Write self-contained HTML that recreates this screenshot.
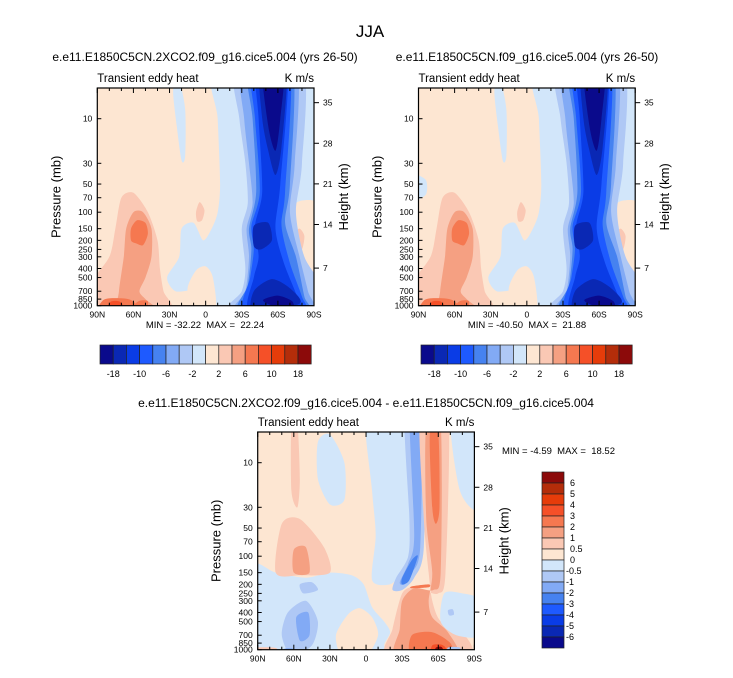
<!DOCTYPE html>
<html><head><meta charset="utf-8">
<style>
html,body{margin:0;padding:0;background:#fff;}
body{width:733px;height:673px;overflow:hidden;font-family:"Liberation Sans",Arial,sans-serif;}
svg text{font-family:"Liberation Sans",Arial,sans-serif;fill:#000;white-space:pre;}
</style></head>
<body>
<svg id="fig" width="733" height="673" viewBox="0 0 733 673" xmlns="http://www.w3.org/2000/svg">
<text x="370" y="37" font-size="17" text-anchor="middle">JJA</text>
</svg>
<script>
// ---- data ----
const topLevels = [-18,-14,-10,-8,-6,-4,-2,0,2,4,6,8,10,14,18];
const topLabels = ["-18","-10","-6","-2","2","6","10","18"];
const diffLevels = [-6,-5,-4,-3,-2,-1,-0.5,0,0.5,1,2,3,4,5,6];
const colors = ["#0a0a8c","#0a28b4","#0a3ce6","#1e5aff","#4682f0","#82aaf5","#afc8f5","#d2e6fa","#fde6d2","#fac8b4","#f5a082","#f57850","#f55028","#e63c0a","#b42d0a","#8c0a0a"];
const latTicks = [90,60,30,0,-30,-60,-90];
const latLabels = ["90N","60N","30N","0","30S","60S","90S"];
const presTicks = [1000,850,700,500,400,300,250,200,150,100,70,50,30,10];
const heightTicks = [7,14,21,28,35];
const panelTitles = ["e.e11.E1850C5CN.2XCO2.f09_g16.cice5.004 (yrs 26-50)","e.e11.E1850C5CN.f09_g16.cice5.004 (yrs 26-50)","e.e11.E1850C5CN.2XCO2.f09_g16.cice5.004 - e.e11.E1850C5CN.f09_g16.cice5.004"];
const minVals = [-32.22,-40.50,-4.59];
const maxVals = [22.24,21.88,18.52];
// contour regions: [colorIndex, [[lat,p],...]]
const climShapes = [
 [7,[[-8,3],[-90,3],[-90,1000],[5,1000],[8,700],[25,700],[32,500],[22,300],[20,150],[10,130],[2,200],[-5,150],[-10,100],[-12,50],[-10,10]]],
 [7,[[27,5],[22,4],[17,8],[17,25],[20,28],[24,12]]],
 [8,[[12,1000],[15,650],[8,420],[0,380],[-6,500],[-8,1000]]],
 [8,[[-70,100],[-80,75],[-90,90],[-90,480],[-80,430],[-70,300]]],
 [9,[[-74,170],[-78,150],[-82,180],[-80,250],[-75,240]]],
 [9,[[90,1000],[90,600],[80,300],[75,150],[70,70],[60,62],[48,100],[40,200],[38,400],[35,700],[30,1000]]],
 [10,[[72,1000],[72,700],[68,300],[66,150],[60,100],[52,100],[45,150],[45,300],[50,500],[55,700],[50,850],[40,1000]]],
 [11,[[62,200],[62,150],[57,122],[50,130],[48,170],[52,225],[58,215]]],
 [11,[[88,1000],[85,870],[75,830],[62,870],[55,1000]]],
 [12,[[82,1000],[79,910],[71,910],[67,1000]]],
 [11,[[58,950],[54,880],[48,900],[50,1000],[57,1000]]],
 [9,[[8,100],[5,78],[1,95],[3,122],[7,125]]],
 [6,[[-25,3],[-80,3],[-80,30],[-75,100],[-82,300],[-90,600],[-90,1000],[-20,1000],[-30,700],[-33,400],[-30,150],[-35,80],[-33,30],[-28,10]]],
 [5,[[-30,3],[-75,3],[-74,30],[-70,100],[-78,300],[-85,700],[-88,1000],[-25,1000],[-33,700],[-36,300],[-34,150],[-39,80],[-36,30],[-32,10]]],
 [4,[[-35,3],[-72,3],[-70,50],[-66,130],[-75,300],[-82,800],[-85,1000],[-28,1000],[-35,600],[-38,250],[-36,150],[-42,60],[-39,10]]],
 [3,[[-38,3],[-70,3],[-66,60],[-63,140],[-70,350],[-80,800],[-82,1000],[-32,1000],[-37,500],[-40,250],[-38,140],[-45,60],[-41,10]]],
 [2,[[-42,3],[-68,3],[-62,50],[-58,150],[-65,350],[-76,800],[-78,1000],[-36,1000],[-40,500],[-44,300],[-41,140],[-47,60],[-44,10]]],
 [1,[[-45,3],[-67,3],[-63,20],[-58,40],[-52,22],[-47,10]]],
 [1,[[-40,140],[-52,130],[-55,200],[-46,250],[-40,230]]],
 [1,[[-40,700],[-55,520],[-70,650],[-78,950],[-40,1000]]],
 [0,[[-47,3],[-65,3],[-62,10],[-58,22],[-52,12]]],
 [0,[[-48,860],[-60,780],[-72,900],[-72,1000],[-52,960]]],
 [12,[[-84,1000],[-90,900],[-90,1000]]]
];
const extraShapes2 = [
 [7,[[90,40],[84,45],[84,65],[90,75]]]
];
const diffShapes = [
 [7,[[90,130],[75,150],[50,170],[30,150],[12,160],[2,200],[-5,350],[-15,500],[-20,650],[-15,900],[-20,1000],[90,1000]]],
 [8,[[25,700],[15,420],[5,360],[-5,450],[-10,700],[0,1000],[20,1000]]],
 [7,[[0,3],[-32,3],[-38,50],[-38,100],[-30,150],[-20,200],[-5,180],[-8,60],[-5,20]]],
 [7,[[40,6],[30,5],[18,10],[18,25],[30,28],[40,15]]],
 [7,[[-70,3],[-90,3],[-90,30],[-78,20]]],
 [6,[[-32,3],[-48,3],[-48,80],[-40,170],[-30,230],[-22,230],[-25,170],[-35,100],[-36,40]]],
 [5,[[-36,3],[-46,3],[-45,80],[-38,150],[-32,200],[-28,190],[-35,120],[-40,60]]],
 [4,[[-38,110],[-43,100],[-36,180],[-30,200],[-30,170]]],
 [9,[[-45,3],[-68,3],[-66,150],[-60,250],[-48,230],[-40,210],[-30,250],[-22,600],[-18,1000],[-85,1000],[-82,700],[-62,500],[-55,300],[-52,150],[-48,40]]],
 [10,[[-50,4],[-62,4],[-62,150],[-56,230],[-40,220],[-30,300],[-28,600],[-25,1000],[-75,1000],[-68,650],[-55,450],[-52,300],[-55,150],[-50,40]]],
 [11,[[-53,5],[-60,5],[-61,30],[-58,45],[-55,30]]],
 [11,[[-38,700],[-55,650],[-70,850],[-70,1000],[-38,1000]]],
 [12,[[-55,900],[-62,880],[-66,950],[-66,1000],[-54,1000]]],
 [15,[[-58,950],[-63,940],[-65,1000],[-57,1000]]],
 [11,[[-38,210],[-52,200],[-52,215],[-38,220]]],
 [7,[[-65,250],[-80,250],[-90,300],[-90,700],[-75,700],[-62,500]]],
 [6,[[-68,380],[-72,370],[-73,420],[-69,430]]],
 [9,[[62,4],[57,4],[55,15],[57,30],[62,20]]],
 [9,[[70,45],[55,40],[35,80],[30,150],[55,160],[75,150]]],
 [10,[[60,85],[50,80],[47,150],[60,150]]],
 [6,[[55,200],[45,190],[40,230],[52,250]]],
 [6,[[65,400],[50,300],[40,500],[45,900],[62,1000],[70,700]]],
 [5,[[58,450],[48,400],[47,700],[55,800]]],
 [9,[[90,960],[75,960],[75,1000],[90,1000]]],
 [5,[[68,980],[60,980],[60,1000],[68,1000]]],
 [6,[[-68,950],[-78,950],[-78,1000],[-68,1000]]]
];

// ---- drawing ----
const NS = "http://www.w3.org/2000/svg";
const fig = document.getElementById('fig');
const W = 216.7, H = 217.7, decade = 93.5;
function mk(tag, attrs, parent){const e=document.createElementNS(NS,tag);for(const k in attrs)e.setAttribute(k,attrs[k]);(parent||fig).appendChild(e);return e;}
function smoothPath(pts){
  const n=pts.length;let d="M"+pts[0][0].toFixed(2)+","+pts[0][1].toFixed(2);
  const t=0.8/6;
  for(let i=0;i<n;i++){
    const p0=pts[(i-1+n)%n],p1=pts[i],p2=pts[(i+1)%n],p3=pts[(i+2)%n];
    const c1=[p1[0]+(p2[0]-p0[0])*t,p1[1]+(p2[1]-p0[1])*t];
    const c2=[p2[0]-(p3[0]-p1[0])*t,p2[1]-(p3[1]-p1[1])*t];
    d+=" C"+c1[0].toFixed(2)+","+c1[1].toFixed(2)+" "+c2[0].toFixed(2)+","+c2[1].toFixed(2)+" "+p2[0].toFixed(2)+","+p2[1].toFixed(2);
  }
  return d+"Z";
}
function panel(idx, x0, y0, shapes, extra, bg){
  const sx = lat => x0 + (90-lat)/180*W;
  const sy = p => y0 + H - decade*Math.log10(1000/p);
  const g = mk('g',{});
  
  
  const cid='clip'+idx;
  const cp=mk('clipPath',{id:cid},g);mk('rect',{x:x0,y:y0,width:W,height:H},cp);
  const bgr=mk('rect',{x:x0,y:y0,width:W,height:H,fill:colors[bg]},g);
  
  
  const cg=mk('g',{'clip-path':'url(#'+cid+')'},g);
  shapes.concat(extra).forEach((s,i)=>{
    const pts=s[1].map(q=>{
      const lat=q[0]>=90?96:(q[0]<=-90?-96:q[0]);
      const p=q[1]>=1000?1150:(q[1]<=3?2.6:q[1]);
      return [sx(lat),sy(p)];});
    const pa=mk('path',{d:smoothPath(pts),fill:colors[s[0]]},cg);
    
    
  });
  const fr=mk('rect',{x:x0,y:y0,width:W,height:H,fill:'none',stroke:'#000','stroke-width':1.2},g);
  
  
  for(let lat=90;lat>=-90;lat-=10){const x=sx(lat);const L=(lat%30===0)?5:3;
    mk('line',{x1:x,y1:y0,x2:x,y2:y0+L,stroke:'#000','stroke-width':1},g);
    mk('line',{x1:x,y1:y0+H,x2:x,y2:y0+H-L,stroke:'#000','stroke-width':1},g);}
  latTicks.forEach((lat,i)=>{const t=mk('text',{x:sx(lat),y:y0+H+12,'font-size':8.5,'text-anchor':'middle'},g);t.textContent=latLabels[i];
    
    });
  presTicks.forEach(p=>{const y=sy(p);mk('line',{x1:x0,y1:y,x2:x0+4,y2:y,stroke:'#000','stroke-width':1},g);
    const t=mk('text',{x:x0-5,y:y+3,'font-size':8.5,'text-anchor':'end'},g);t.textContent=p;
    
    });
  heightTicks.forEach(z=>{const y=sy(1000*Math.exp(-z/7))+ (z===7?3:0);mk('line',{x1:x0+W,y1:y,x2:x0+W+5,y2:y,stroke:'#000','stroke-width':1},g);
    const t=mk('text',{x:x0+W+9,y:y+3,'font-size':8.5},g);t.textContent=z;
    
    });
  const t1=mk('text',{x:x0,y:y0-6,'font-size':11.5},g);t1.textContent="Transient eddy heat";
  
  
  const t2=mk('text',{x:x0+W,y:y0-6,'font-size':11.5,'text-anchor':'end'},g);t2.textContent="K m/s";
  
  
  const yl=mk('text',{x:0,y:0,'font-size':13,'text-anchor':'middle',transform:'translate('+(x0-37)+','+(y0+H/2)+') rotate(-90)'},g);yl.textContent="Pressure (mb)";
  
  
  const hl=mk('text',{x:0,y:0,'font-size':13,'text-anchor':'middle',transform:'translate('+(x0+W+34)+','+(y0+H/2)+') rotate(-90)'},g);hl.textContent="Height (km)";
  
  
  return g;
}
function hbar(x0,y0){
  const g=mk('g',{});
  
  
  const bw=13.2;
  colors.forEach((c,i)=>{mk('rect',{x:x0+i*bw,y:y0,width:bw,height:19,fill:c,stroke:'#222','stroke-width':0.7},g);});
  topLabels.forEach((l,i)=>{const t=mk('text',{x:x0+(1+2*i)*bw,y:y0+32,'font-size':9,'text-anchor':'middle'},g);t.textContent=l;
    
    });
}
function title(x,y,s,sz){const t=mk('text',{x:x,y:y,'font-size':sz,'text-anchor':'middle'});t.textContent=s;
  
  }

title(205,61,panelTitles[0],12);
title(527,61,panelTitles[1],12);
title(366,407,panelTitles[2],12);
panel(0,97.3,88,climShapes,[],8);
panel(1,418.5,88,climShapes,extraShapes2,8);
panel(2,257.7,432,diffShapes,[],8);
function mm(x,y,i,anchor){const t=mk('text',{x:x,y:y,'font-size':9.5,'text-anchor':anchor});
  const f=v=>(v<0?"":"\u00a0")+v.toFixed(2);
  t.textContent="MIN =\u00a0"+f(minVals[i])+"\u00a0\u00a0MAX =\u00a0"+f(maxVals[i]);
  
  }
mm(205,328,0,'middle');mm(527,328,1,'middle');mm(502,454,2,'start');
hbar(100,345);hbar(421,345);
(function(){const g=mk('g',{});
  
  
  const bh=11;
  for(let i=0;i<16;i++){mk('rect',{x:542,y:472+i*bh,width:22,height:bh,fill:colors[15-i],stroke:'#222','stroke-width':0.7},g);}
  for(let i=0;i<15;i++){const v=diffLevels[14-i];const t=mk('text',{x:v<0?566:570,y:472+(i+1)*bh+3,'font-size':9},g);t.textContent=v;
    
    }
})();
</script>
</body></html>
